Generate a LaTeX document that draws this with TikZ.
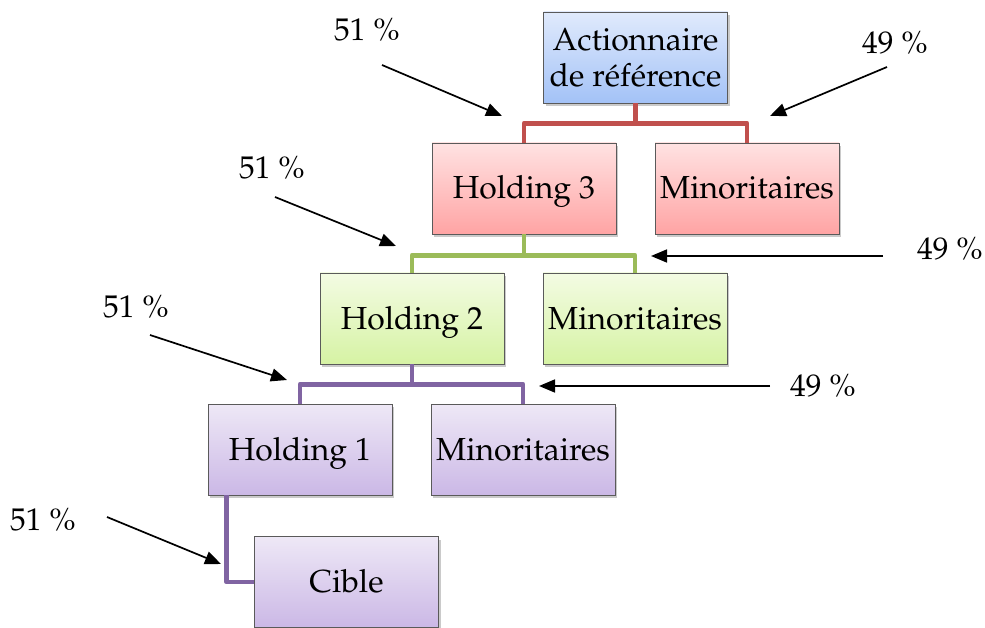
\documentclass[tikz,border=0pt]{standalone}
\usepackage[T1]{fontenc}
\usepackage{mathpazo}
\usetikzlibrary{arrows.meta,shadows}
\definecolor{blueT}{HTML}{E0EAFC}
\definecolor{blueB}{HTML}{A3C2F7}
\definecolor{redT}{HTML}{FFE2E2}
\definecolor{redB}{HTML}{FFA4A4}
\definecolor{greenT}{HTML}{F3FBE3}
\definecolor{greenB}{HTML}{D6F3A4}
\definecolor{purT}{HTML}{EEE8F6}
\definecolor{purB}{HTML}{CBB8E6}
\definecolor{redL}{HTML}{C0504D}
\definecolor{greenL}{HTML}{9BBB59}
\definecolor{purL}{HTML}{8064A2}
\definecolor{boxB}{HTML}{5A5A5A}
\tikzset{
  box/.style={draw=boxB, line width=0.8bp, minimum width=184bp, minimum height=91bp,
    inner sep=0pt, align=center, font=\fontsize{32}{38}\selectfont,
    drop shadow={shadow xshift=2bp, shadow yshift=-3bp, opacity=0.35, fill=black!60}},
  oneline/.style={text height=25bp, text depth=4bp},
  bluebox/.style={box, top color=blueT, bottom color=blueB},
  redbox/.style={box, oneline, top color=redT, bottom color=redB},
  greenbox/.style={box, oneline, top color=greenT, bottom color=greenB},
  purbox/.style={box, oneline, top color=purT, bottom color=purB},
  link/.style={line width=4.8bp, line join=round},
  pct/.style={font=\fontsize{31.5}{36}\selectfont, inner sep=0pt},
  arr/.style={line width=1.7bp, -{Triangle[length=16bp,width=13bp]}}
}
\begin{document}
\begin{tikzpicture}[x=1bp,y=-1bp]
\useasboundingbox (0,0) rectangle (985,628);
% boxes
\node[bluebox] (act) at (635.5,57.5) {\raisebox{1bp}{Actionnaire}\\[-3bp]de r\'ef\'erence};
\node[redbox] (h3) at (524,188.5) {Holding 3};
\node[redbox] (m3) at (747,188.5) {Minoritaires};
\node[greenbox] (h2) at (412,318.5) {Holding 2};
\node[greenbox] (m2) at (635,318.5) {Minoritaires};
\node[purbox] (h1) at (300,449.5) {Holding 1};
\node[purbox] (m1) at (523,449.5) {Minoritaires};
\node[purbox] (cib) at (346.5,582) {Cible};
% connectors
\draw[link, redL] (act.south) -- ++(0,20) -| (h3.north);
\draw[link, redL] (act.south) -- ++(0,20) -| (m3.north);
\draw[link, greenL] (h3.south) -- ++(0,21) -| (h2.north);
\draw[link, greenL] (h3.south) -- ++(0,21) -| (m2.north);
\draw[link, purL] (h2.south) -- ++(0,20) -| (h1.north);
\draw[link, purL] (h2.south) -- ++(0,20) -| (m1.north);
\draw[link, purL] (h1.south west) ++(19,0) |- (cib.west);
% percentage labels
\node[pct] (p1) at (367,30) {51 \%};
\node[pct] (q1) at (895,43) {49 \%};
\node[pct] (p2) at (272,168) {51 \%};
\node[pct] (q2) at (950,249) {49 \%};
\node[pct] (p3) at (136,307) {51 \%};
\node[pct] (q3) at (823,386) {49 \%};
\node[pct] (p4) at (43,520) {51 \%};
% arrow ends
\coordinate (a1s) at (382,65);  \coordinate (a1e) at (502,116);
\coordinate (b1s) at (887,67);  \coordinate (b1e) at (770,116);
\coordinate (a2s) at (275,197); \coordinate (a2e) at (396,246);
\coordinate (b2s) at (883,256); \coordinate (b2e) at (651,256);
\coordinate (a3s) at (150,335); \coordinate (a3e) at (287,380);
\coordinate (b3s) at (770,386); \coordinate (b3e) at (539,386);
\coordinate (a4s) at (107,517); \coordinate (a4e) at (221,564);
\draw[arr] (a1s) -- (a1e);
\draw[arr] (b1s) -- (b1e);
\draw[arr] (a2s) -- (a2e);
\draw[arr] (b2s) -- (b2e);
\draw[arr] (a3s) -- (a3e);
\draw[arr] (b3s) -- (b3e);
\draw[arr] (a4s) -- (a4e);
\end{tikzpicture}
\end{document}
